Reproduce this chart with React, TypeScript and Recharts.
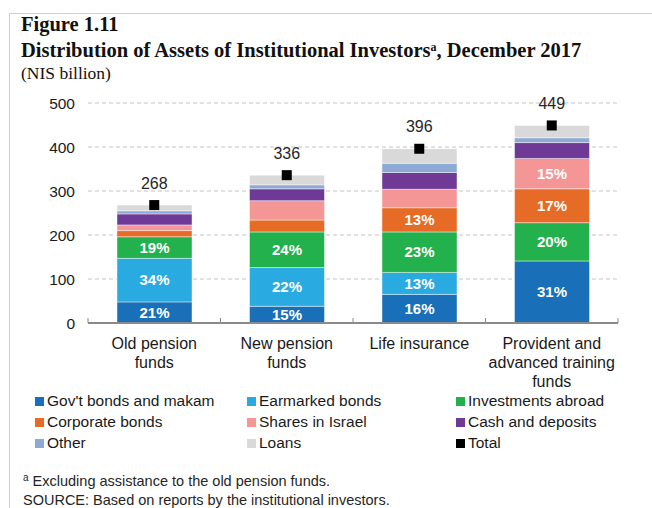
import { ComposedChart, Bar, Scatter, XAxis, YAxis, CartesianGrid, LabelList } from 'recharts';

const categories = ['Old pension funds', 'New pension funds', 'Life insurance', 'Provident and advanced training funds'];
const categoryLines = [
  ['Old pension', 'funds'],
  ['New pension', 'funds'],
  ['Life insurance'],
  ['Provident and', 'advanced training', 'funds'],
];

// NIS billion
const govBonds = [48, 38, 65, 141];
const earmarkedBonds = [99, 88, 50, 0];
const investmentsAbroad = [49, 81, 92, 87];
const corporateBonds = [14, 27, 55, 77];
const sharesIsrael = [13, 44, 42, 69];
const cashDeposits = [25, 27, 38, 36];
const otherAssets = [7, 9, 21, 11];
const loans = [13, 22, 33, 28];
const totals = [268, 336, 396, 449];

// percent labels printed inside the bars
const govPct = ['21%', '15%', '16%', '31%'];
const earmarkedPct = ['34%', '22%', '13%', ''];
const investmentsPct = ['19%', '24%', '23%', '20%'];
const corporatePct = ['', '', '13%', '17%'];
const sharesPct = ['', '', '', '15%'];

const yTicks = [0, 100, 200, 300, 400, 500];

const series = [
  { key: 'gov', name: "Gov't bonds and makam", color: '#1a70b8', values: govBonds, pct: govPct },
  { key: 'earmarked', name: 'Earmarked bonds', color: '#29abe2', values: earmarkedBonds, pct: earmarkedPct },
  { key: 'abroad', name: 'Investments abroad', color: '#22b14c', values: investmentsAbroad, pct: investmentsPct },
  { key: 'corporate', name: 'Corporate bonds', color: '#e56b26', values: corporateBonds, pct: corporatePct },
  { key: 'shares', name: 'Shares in Israel', color: '#f49696', values: sharesIsrael, pct: sharesPct },
  { key: 'cash', name: 'Cash and deposits', color: '#6e3a96', values: cashDeposits, pct: null },
  { key: 'other', name: 'Other', color: '#8ea9d3', values: otherAssets, pct: null },
  { key: 'loans', name: 'Loans', color: '#d9d9d9', values: loans, pct: null },
];

const data = categories.map((name, i) => {
  const row: Record<string, any> = { name, total: totals[i] };
  series.forEach((s) => {
    row[s.key] = s.values[i];
    if (s.pct) row[s.key + 'Pct'] = s.pct[i];
  });
  return row;
});

const legendItems = [
  ...series.map((s) => ({ name: s.name, color: s.color })),
  { name: 'Total', color: '#000000' },
];

const FONT = '"Liberation Sans", Arial, sans-serif';
const SERIF = '"Liberation Serif", "Times New Roman", serif';
const PLOT_LEFT = 88;
const PLOT_RIGHT = 618;
const band = (PLOT_RIGHT - PLOT_LEFT) / categories.length;

const CategoryTick = (props: any) => {
  const { x, y, payload } = props;
  const idx = categories.indexOf(payload.value);
  const lines = categoryLines[idx] || [payload.value];
  return (
    <g>
      <line x1={x - band / 2} x2={x - band / 2} y1={y} y2={y - 5} stroke="#8a8a8a" />
      {idx === categories.length - 1 && (
        <line x1={x + band / 2} x2={x + band / 2} y1={y} y2={y - 5} stroke="#8a8a8a" />
      )}
      {lines.map((line, i) => (
        <text
          key={i}
          x={x}
          y={y + 20 + i * 19}
          textAnchor="middle"
          dominantBaseline="central"
          fontSize={16}
          fontFamily={FONT}
          fill="#1a1a1a"
        >
          {line}
        </text>
      ))}
    </g>
  );
};

const TotalMarker = (props: any) => {
  const { cx, cy, payload } = props;
  return (
    <g>
      <rect x={cx - 5} y={cy - 5} width={10} height={10} fill="#000" />
      <text
        x={cx}
        y={cy - 22}
        textAnchor="middle"
        dominantBaseline="central"
        fontSize={16}
        fontFamily={FONT}
        fill="#262626"
      >
        {payload.total}
      </text>
    </g>
  );
};

const legendCols = [35, 247, 456];
const legendRows = [401, 422, 443];

export default function App() {
  return (
    <div style={{ position: 'fixed', left: 0, top: 0, width: 652, height: 508, overflow: 'hidden', background: '#fff' }}>
      <div
        style={{
          position: 'absolute',
          left: 9,
          top: 13,
          width: 660,
          height: 520,
          borderLeft: '1px solid #cfcfcf',
          borderTop: '1px solid #cfcfcf',
        }}
      />
      <div
        style={{
          position: 'absolute',
          left: 21,
          top: 13,
          fontFamily: SERIF,
          color: '#111',
          lineHeight: '23px',
          whiteSpace: 'nowrap',
        }}
      >
        <div style={{ fontWeight: 'bold', fontSize: 20.5 }}>Figure 1.11</div>
        <div style={{ fontWeight: 'bold', fontSize: 20.5 }}>
          Distribution of Assets of Institutional Investors
          <span style={{ fontSize: 12, verticalAlign: '6px' }}>a</span>, December 2017
        </div>
        <div style={{ fontSize: 17.5 }}>(NIS billion)</div>
      </div>

      <div style={{ position: 'absolute', left: 0, top: 0 }}>
        <ComposedChart width={652} height={400} data={data} margin={{ top: 103, right: 34, left: 0, bottom: 17 }}>
          <CartesianGrid vertical={false} stroke="#c4c4c4" strokeDasharray="4 3" />
          <XAxis
            dataKey="name"
            height={60}
            interval={0}
            tickLine={false}
            tickSize={0}
            tickMargin={0}
            axisLine={{ stroke: '#8a8a8a', strokeWidth: 2 }}
            tick={<CategoryTick />}
          />
          <YAxis
            width={88}
            domain={[0, 500]}
            ticks={yTicks}
            axisLine={false}
            tickLine={false}
            tickSize={0}
            tickMargin={13}
            tick={{ fontSize: 15.5, fontFamily: FONT, fill: '#1a1a1a' }}
          />
          {series.map((s) => (
            <Bar
              key={s.key}
              dataKey={s.key}
              name={s.name}
              stackId="assets"
              fill={s.color}
              stroke="rgba(255,255,255,0.55)"
              strokeWidth={0.8}
              barSize={75}
              isAnimationActive={false}
            >
              {s.pct && (
                <LabelList
                  dataKey={s.key + 'Pct'}
                  position="center"
                  fill="#ffffff"
                  fontSize={15}
                  fontWeight="bold"
                  fontFamily={FONT}
                />
              )}
            </Bar>
          ))}
          <Scatter dataKey="total" name="Total" fill="#000" shape={<TotalMarker />} isAnimationActive={false} />
        </ComposedChart>
      </div>

      {legendItems.map((item, i) => (
        <div
          key={item.name}
          style={{
            position: 'absolute',
            left: legendCols[i % 3],
            top: legendRows[Math.floor(i / 3)] - 9,
            height: 18,
            display: 'flex',
            alignItems: 'center',
            fontFamily: FONT,
            fontSize: 15.5,
            color: '#1a1a1a',
            whiteSpace: 'nowrap',
          }}
        >
          <span style={{ display: 'inline-block', width: 9, height: 9, background: item.color, marginRight: 3 }} />
          {item.name}
        </div>
      ))}

      <div
        style={{
          position: 'absolute',
          left: 23,
          top: 468,
          fontFamily: FONT,
          fontSize: 14.5,
          color: '#262626',
          lineHeight: '19px',
          whiteSpace: 'nowrap',
        }}
      >
        <div>
          <span style={{ fontSize: 10, verticalAlign: '5px' }}>a</span> Excluding assistance to the old pension funds.
        </div>
        <div>SOURCE: Based on reports by the institutional investors.</div>
      </div>
    </div>
  );
}
